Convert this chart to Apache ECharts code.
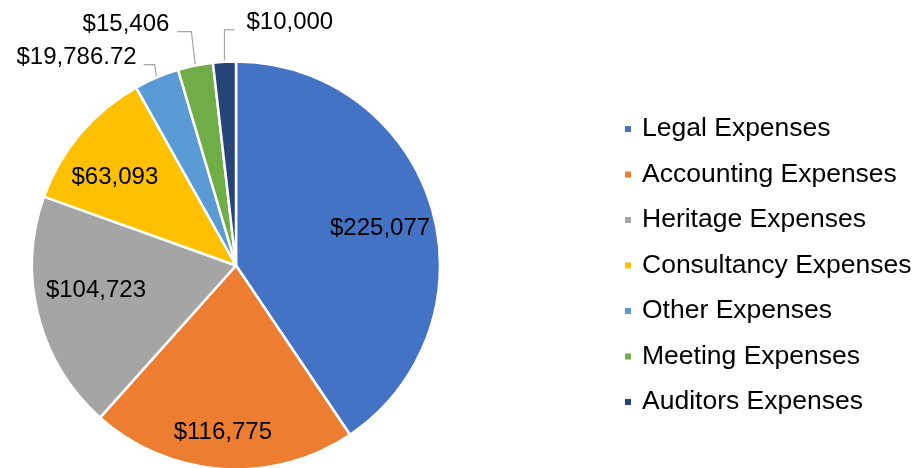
<!DOCTYPE html>
<html>
<head>
<meta charset="utf-8">
<script src="https://cdn.jsdelivr.net/npm/echarts@6/dist/echarts.min.js"></script>
<style>
  html, body { margin: 0; padding: 0; background: #ffffff; }
  #chart { width: 915px; height: 468px; }
</style>
</head>
<body>
<div id="chart"></div>
<script>
// ---- data ----
const categories = ['Legal Expenses', 'Accounting Expenses', 'Heritage Expenses', 'Consultancy Expenses', 'Other Expenses', 'Meeting Expenses', 'Auditors Expenses'];
const values = [225077, 116775, 104723, 63093, 19786.72, 15406, 10000];
const colors = ['#4472C4', '#ED7D31', '#A5A5A5', '#FFC000', '#5B9BD5', '#70AD47', '#264478'];

// ---- label placement (style config, relative to library-computed slice geometry) ----
// inside labels: [fraction of radius, angle tweak in degrees] along slice mid angle (null = outside label)
const insidePlace = [[0.729, 2.6], [0.819, 0.6], [0.697, 4.3], [0.735, -4.1], null, null, null];
// outside leader lines: [dx, rise, horizontal, gap to text] offsets from the slice's outer edge point
const leader = [null, null, null, null, [-2, 13, -11, 7], [-4, 34, -14, 8], [0, 32, 10, 12]];

const chart = echarts.init(document.getElementById('chart'));
const FONT = '"Liberation Sans", Arial, sans-serif';

function fmt(v) { return '$' + v.toLocaleString('en-US', { maximumFractionDigits: 2 }); }

const seriesData = categories.map(function (name, i) {
  return {
    name: name,
    value: values[i],
    itemStyle: { color: colors[i] },
    label: { position: insidePlace[i] != null ? 'inside' : 'outside' },
    labelLine: { show: insidePlace[i] == null }
  };
});

chart.setOption({
  animation: false,
  backgroundColor: '#ffffff',
  legend: {
    orient: 'vertical',
    left: 618,
    top: 109,
    icon: 'path://M0,0h8v8h-8z',
    itemWidth: 18,
    itemHeight: 8,
    itemGap: 15.5,
    textStyle: { fontFamily: FONT, fontSize: 26.5, color: '#000', lineHeight: 30 },
    data: categories
  },
  series: [{
    type: 'pie',
    center: [236, 265.5],
    radius: [0, 204],
    startAngle: 90,
    clockwise: true,
    avoidLabelOverlap: false,
    itemStyle: { borderColor: '#ffffff', borderWidth: 2.5 },
    label: {
      show: true,
      fontFamily: FONT,
      fontSize: 24,
      color: '#000',
      formatter: function (p) { return fmt(p.value); }
    },
    labelLine: {
      show: true,
      length: 10,
      length2: 10,
      lineStyle: { color: '#A6A6A6', width: 1.2 }
    },
    emphasis: { disabled: true },
    data: seriesData,
    labelLayout: function (p) {
      const i = p.dataIndex;
      const lay = chart.getModel().getSeriesByIndex(0).getData().getItemLayout(i);
      const mid = (lay.startAngle + lay.endAngle) / 2;
      if (insidePlace[i] != null) {
        const rr = lay.r * insidePlace[i][0];
        const a = mid + insidePlace[i][1] * Math.PI / 180;
        return {
          x: lay.cx + rr * Math.cos(a),
          y: lay.cy + rr * Math.sin(a),
          align: 'center',
          verticalAlign: 'middle'
        };
      }
      const L = leader[i];
      const ex = lay.cx + lay.r * Math.cos(mid);
      const ey = lay.cy + lay.r * Math.sin(mid);
      const bx = ex + L[0], by = ey - L[1];
      const hx = bx + L[2];
      const dir = L[2] >= 0 ? 1 : -1;
      return {
        x: hx + dir * L[3],
        y: by - 7,
        align: dir > 0 ? 'left' : 'right',
        verticalAlign: 'middle',
        labelLinePoints: [[ex, ey], [bx, by], [hx, by]]
      };
    }
  }]
});
</script>
</body>
</html>
